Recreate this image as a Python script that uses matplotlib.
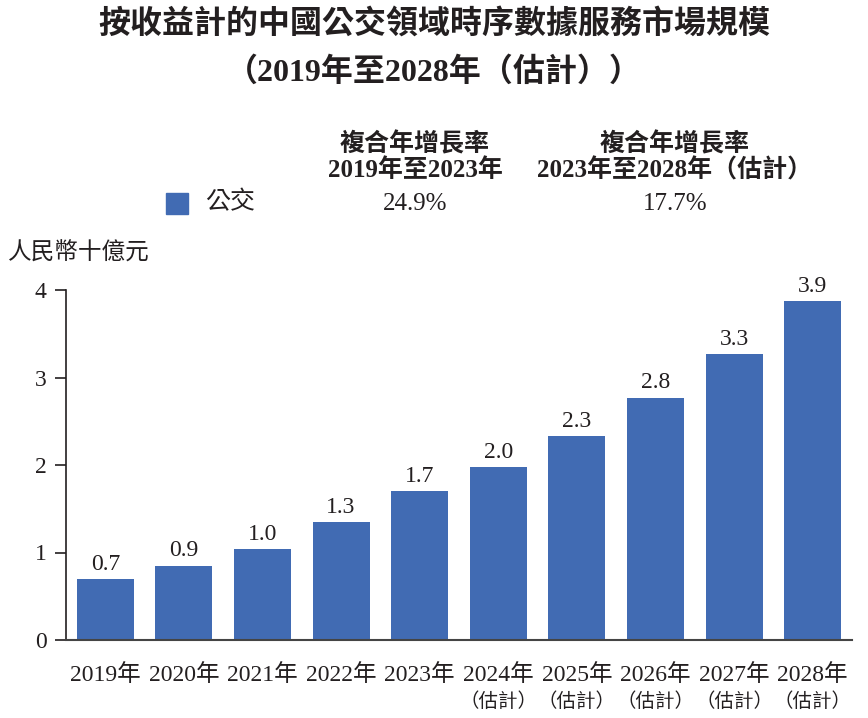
import matplotlib
matplotlib.use("Agg")
import matplotlib.pyplot as plt

# data
years = ["2019年", "2020年", "2021年", "2022年", "2023年",
         "2024年", "2025年", "2026年", "2027年", "2028年"]
estimated = [False, False, False, False, False, True, True, True, True, True]
values = [0.70, 0.85, 1.04, 1.35, 1.70, 1.98, 2.33, 2.77, 3.27, 3.87]
value_labels = ["0.7", "0.9", "1.0", "1.3", "1.7", "2.0", "2.3", "2.8", "3.3", "3.9"]
yticks = [0, 1, 2, 3, 4]
cagr_headers = ["複合年增長率\n2019年至2023年", "複合年增長率\n2023年至2028年（估計）"]
cagr_values = ["24.9%", "17.7%"]
series_name = "公交"

FONT = ["Liberation Serif", "Noto Sans CJK TC"]
INK = "#231f20"
BLUE = "#416bb3"

plt.rcParams["font.family"] = FONT

W, H = 868, 718
fig = plt.figure(figsize=(W / 100, H / 100), dpi=100)


def fy(py):
    return 1 - py / H


def fx(px):
    return px / W


ax = fig.add_axes([fx(66), fy(640), fx(852) - fx(66), fy(290) - fy(640)])

x = list(range(len(values)))
ax.bar(x, values, width=0.725, color=BLUE, zorder=2)
for xi, v, lab in zip(x, values, value_labels):
    ax.annotate(lab, (xi, v), xytext=(0, 3), textcoords="offset points",
                ha="center", va="bottom", fontsize=17, color=INK)

ax.set_xlim(-0.5, len(values) - 0.5)
ax.set_ylim(0, 4)
ax.set_yticks(yticks)
ax.set_yticklabels([str(t) for t in yticks], fontsize=17, color=INK)
ax.set_xticks([])

# x labels: year, plus a second (估計) line for forecast years
xt = ax.get_xaxis_transform()
for xi, yr, est in zip(x, years, estimated):
    ax.annotate(yr, (xi, 0), xycoords=xt, xytext=(0, -35), textcoords="offset pixels",
                ha="center", va="center", fontsize=17, color=INK)
    if est:
        ax.annotate("（估計）", (xi, 0), xycoords=xt, xytext=(0, -62),
                    textcoords="offset pixels", ha="center", va="center",
                    fontsize=14, color=INK)

ax.tick_params(axis="y", length=8, width=1.2, color=INK, pad=6)
for s in ["top", "right"]:
    ax.spines[s].set_visible(False)
ax.spines["left"].set_color(INK)
ax.spines["left"].set_linewidth(1.2)
ax.spines["bottom"].set_color("#444444")
ax.spines["bottom"].set_linewidth(1.5)

# title
fig.text(0.5, fy(24), "按收益計的中國公交領域時序數據服務市場規模",
         ha="center", va="center", fontsize=23, fontweight="bold", color=INK)
fig.text(0.5, fy(72), "（2019年至2028年（估計））",
         ha="center", va="center", fontsize=23, fontweight="bold", color=INK)

# CAGR table
for cx, head, val in zip([415, 675], cagr_headers, cagr_values):
    fig.text(fx(cx), fy(157), head, ha="center", va="center", fontsize=18,
             fontweight="bold", color=INK, linespacing=1.1)
    fig.text(fx(cx), fy(204), val, ha="center", va="center", fontsize=18, color=INK)

fig.patches.append(plt.Rectangle((fx(166), fy(214)), fx(22), 21 / H,
                                 transform=fig.transFigure, color=BLUE))
fig.text(fx(205), fy(203), series_name, ha="left", va="center", fontsize=18, color=INK)

fig.text(fx(8), fy(254), "人民幣十億元", ha="left", va="center", fontsize=17, color=INK)

fig.savefig("out.png", dpi=100)
